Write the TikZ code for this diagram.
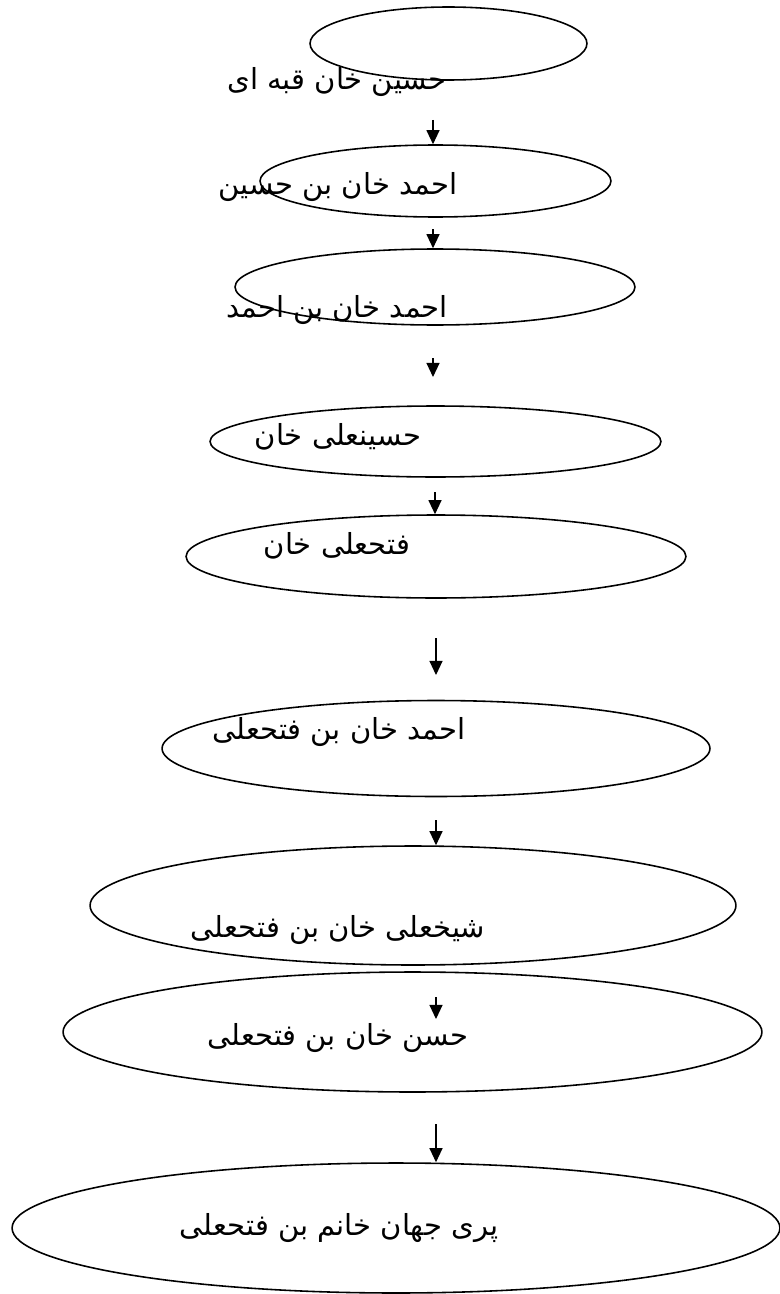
\documentclass[tikz,border=0pt]{standalone}
\usepackage{fontspec}
\usepackage{tikz}
\usetikzlibrary{arrows.meta,shapes.geometric}
\newfontfamily\persianfont[Script=Arabic]{DejaVu Sans}
\TeXXeTstate=1
\newcommand{\rtltext}[1]{\beginR #1\endR}

\tikzset{
    gen/.style={draw, ellipse, line width=0.9pt, inner sep=0pt},
    who/.style={font=\persianfont\fontsize{16.5}{19}\selectfont, inner sep=0pt},
    down/.style={line width=0.7pt, -{Triangle[width=7.4pt,length=8pt]}}
}

\begin{document}
\begin{tikzpicture}[x=0.02cm, y=-0.02cm]
    \useasboundingbox (0,0) rectangle (780,1294);
    %Ellipses
    \node[gen, minimum width=5.54cm, minimum height=1.46cm] (e1) at (448.5,43.5) {};
    \node[gen, minimum width=7.02cm, minimum height=1.44cm] (e2) at (435.5,181) {};
    \node[gen, minimum width=8.00cm, minimum height=1.52cm] (e3) at (435,287) {};
    \node[gen, minimum width=9.02cm, minimum height=1.42cm] (e4) at (435.5,441.5) {};
    \node[gen, minimum width=10.00cm, minimum height=1.66cm] (e5) at (436,556.5) {};
    \node[gen, minimum width=10.96cm, minimum height=1.92cm] (e6) at (436,748.5) {};
    \node[gen, minimum width=12.92cm, minimum height=2.38cm] (e7) at (413,905.5) {};
    \node[gen, minimum width=13.98cm, minimum height=2.40cm] (e8) at (412.5,1032) {};
    \node[gen, minimum width=15.36cm, minimum height=2.60cm] (e9) at (396,1228) {};
    %Names
    \node[who] (t1) at (337,82) {\rtltext{حسین خان قبه ای}};
    \node[who] (t2) at (338,187) {\rtltext{احمد خان بن حسین}};
    \node[who] (t3) at (337,310) {\rtltext{احمد خان بن احمد}};
    \node[who] (t4) at (338,437) {\rtltext{حسینعلی خان}};
    \node[who] (t5) at (337,546) {\rtltext{فتحعلی خان}};
    \node[who] (t6) at (339,732) {\rtltext{احمد خان بن فتحعلی}};
    \node[who] (t7) at (338,930) {\rtltext{شیخعلی خان بن فتحعلی}};
    \node[who] (t8) at (338,1038) {\rtltext{حسن خان بن فتحعلی}};
    \node[who] (t9) at (339,1228) {\rtltext{پری جهان خانم بن فتحعلی}};
    %Arrows
    \coordinate (a1) at (433,120);
    \coordinate (a2) at (433,229);
    \coordinate (a3) at (433,358);
    \coordinate (a3end) at (433,377);
    \coordinate (a4) at (435,492);
    \coordinate (a5) at (436,638);
    \coordinate (a5end) at (436,675);
    \coordinate (a6) at (436,820);
    \coordinate (a7) at (436,997);
    \coordinate (a7end) at (436,1019);
    \coordinate (a8) at (436,1124);
    \draw[down] (a1) -- (a1 |- e2.north);
    \draw[down] (a2) -- (a2 |- e3.north);
    \draw[down] (a3) -- (a3end);
    \draw[down] (a4) -- (a4 |- e5.north);
    \draw[down] (a5) -- (a5end);
    \draw[down] (a6) -- (a6 |- e7.north);
    \draw[down] (a7) -- (a7end);
    \draw[down] (a8) -- (a8 |- e9.north);
\end{tikzpicture}
\end{document}
